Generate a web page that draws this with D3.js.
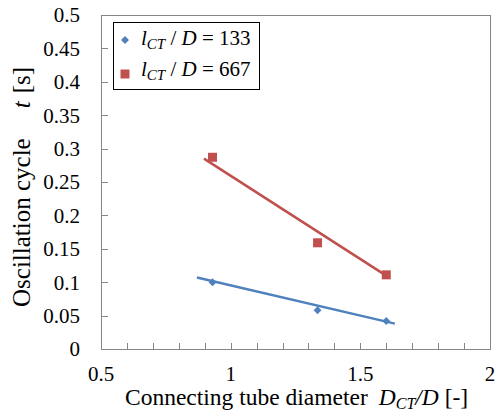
<!DOCTYPE html>
<html>
<head>
<meta charset="utf-8">
<script src="https://cdn.jsdelivr.net/npm/d3@7"></script>
<style>
  html, body { margin: 0; padding: 0; background: #fff; }
</style>
</head>
<body>
<div id="chartContainer"></div>
<script>
// data
const xTicks = [0.5, 1, 1.5, 2];
const yTicks = [0, 0.05, 0.1, 0.15, 0.2, 0.25, 0.3, 0.35, 0.4, 0.45, 0.5];
const diameters = [0.93, 1.335, 1.6];
const cycle133 = [0.1, 0.058, 0.042];
const cycle667 = [0.287, 0.159, 0.111];
const trend133X = [0.87, 1.633];
const trend133Y = [0.107, 0.038];
const trend667X = [0.897, 1.607];
const trend667Y = [0.285, 0.108];

const blue = "#4F81BD";
const red = "#C0504D";
const axisGray = "#868686";
const serif = "'Liberation Serif', 'Times New Roman', Tinos, 'DejaVu Serif', serif";

const width = 500, height = 416;
const plotLeft = 101, plotRight = 490, plotTop = 15, plotBottom = 349;

const x = d3.scaleLinear().domain([0.5, 2]).range([plotLeft, plotRight]);
const y = d3.scaleLinear().domain([0, 0.5]).range([plotBottom, plotTop]);

const svg = d3.select("#chartContainer")
    .append("svg")
    .attr("width", width)
    .attr("height", height)
    .style("font-family", serif);

// frame
svg.append("rect")
    .attr("x", plotLeft + 0.5).attr("y", plotTop + 0.5)
    .attr("width", plotRight - plotLeft).attr("height", plotBottom - plotTop)
    .attr("fill", "none")
    .attr("stroke", axisGray)
    .attr("stroke-width", 1);

// y ticks (inside)
svg.append("g")
    .selectAll("line")
    .data(yTicks)
    .enter().append("line")
    .attr("x1", plotLeft).attr("x2", plotLeft + 7)
    .attr("y1", d => Math.round(y(d)) + 0.5)
    .attr("y2", d => Math.round(y(d)) + 0.5)
    .attr("stroke", axisGray);

svg.append("g")
    .selectAll("text")
    .data(yTicks)
    .enter().append("text")
    .attr("x", plotLeft - 21)
    .attr("y", d => y(d))
    .attr("dy", "0.35em")
    .attr("text-anchor", "end")
    .style("font-size", "21px")
    .text(d => d);

// x minor ticks every 0.1
const xMinor = d3.range(6, 20).map(d => d / 10);
svg.append("g")
    .selectAll("line")
    .data(xMinor)
    .enter().append("line")
    .attr("x1", d => Math.round(x(d)) + 0.5)
    .attr("x2", d => Math.round(x(d)) + 0.5)
    .attr("y1", plotBottom).attr("y2", plotBottom - 6)
    .attr("stroke", axisGray);

svg.append("g")
    .selectAll("text")
    .data(xTicks)
    .enter().append("text")
    .attr("x", d => x(d))
    .attr("y", 381)
    .attr("text-anchor", "middle")
    .style("font-size", "21px")
    .text(d => d);

// trend lines
const line = d3.line().x(d => x(d[0])).y(d => y(d[1]));

svg.append("path")
    .datum(d3.zip(trend133X, trend133Y))
    .attr("fill", "none")
    .attr("stroke", blue)
    .attr("stroke-width", 2.5)
    .attr("d", line);

svg.append("path")
    .datum(d3.zip(trend667X, trend667Y))
    .attr("fill", "none")
    .attr("stroke", red)
    .attr("stroke-width", 2.5)
    .attr("d", line);

// markers
const diamond = d3.symbol().type(d3.symbolDiamond2).size(40);
const square = d3.symbol().type(d3.symbolSquare).size(81);

svg.append("g")
    .selectAll("path")
    .data(d3.zip(diameters, cycle133))
    .enter().append("path")
    .attr("transform", d => `translate(${x(d[0])},${y(d[1])})`)
    .attr("d", diamond)
    .attr("fill", blue);

svg.append("g")
    .selectAll("path")
    .data(d3.zip(diameters, cycle667))
    .enter().append("path")
    .attr("transform", d => `translate(${x(d[0])},${y(d[1])})`)
    .attr("d", square)
    .attr("fill", red);

// legend
const legend = svg.append("g");
legend.append("rect")
    .attr("x", 113.5).attr("y", 22.5)
    .attr("width", 146).attr("height", 67)
    .attr("fill", "#fff")
    .attr("stroke", "#000")
    .attr("stroke-width", 1);

const legendRows = [
    { label: "133", color: blue, sym: diamond, y: 45, my: 40 },
    { label: "667", color: red, sym: square, y: 76, my: 74 }
];
legendRows.forEach(r => {
    legend.append("path")
        .attr("transform", `translate(125,${r.my})`)
        .attr("d", r.sym)
        .attr("fill", r.color);
    const t = legend.append("text")
        .attr("x", 141)
        .attr("y", r.y)
        .style("font-size", "21px");
    t.append("tspan").style("font-style", "italic").text("l");
    t.append("tspan").style("font-style", "italic").style("font-size", "15px")
        .attr("dy", 4).text("CT");
    t.append("tspan").attr("dy", -4).text(" / ");
    t.append("tspan").style("font-style", "italic").text("D");
    t.append("tspan").text(" = " + r.label);
});

// axis titles
const xt = svg.append("text")
    .attr("x", 125)
    .attr("y", 405)
    .style("font-size", "23.5px");
xt.append("tspan").text("Connecting tube diameter");
xt.append("tspan").attr("dx", 11).style("font-style", "italic").text("D");
xt.append("tspan").style("font-style", "italic").style("font-size", "16px")
    .attr("dy", 4).text("CT");
xt.append("tspan").attr("dy", -4).style("font-style", "italic").text("/D");
xt.append("tspan").text(" [-]");

const yt = svg.append("text")
    .attr("transform", "translate(30,307) rotate(-90)")
    .style("font-size", "25px");
yt.append("tspan").text("Oscillation cycle");
yt.append("tspan").attr("dx", 30).style("font-style", "italic").text("t");
yt.append("tspan").attr("dx", 8).text("[s]");
</script>
</body>
</html>
